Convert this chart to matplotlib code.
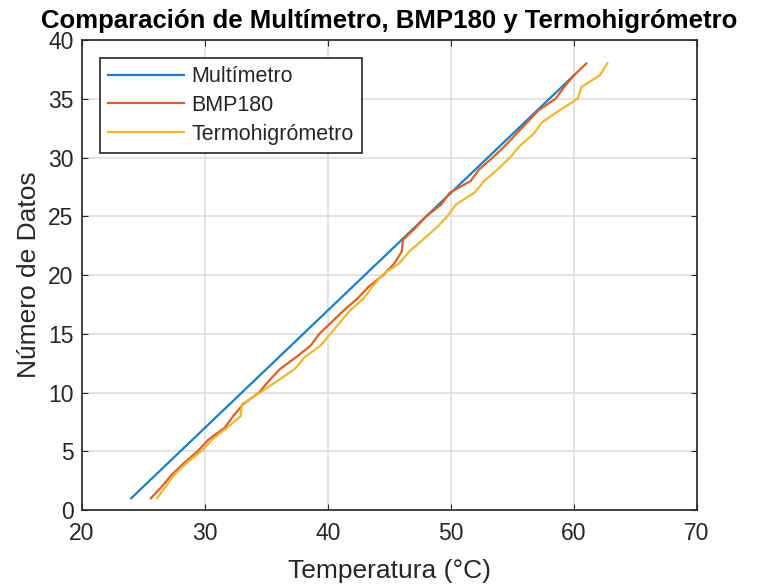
import matplotlib.pyplot as plt

plt.rcParams['font.family'] = ['Liberation Sans', 'DejaVu Sans']

# Número de dato (eje y)
n_multi = list(range(1, 38))
n_sens = list(range(1, 39))

# Temperaturas leídas (°C)
t_multimetro = [24, 25, 26, 27, 28, 29, 30, 31, 32, 33, 34, 35, 36, 37, 38, 39,
                40, 41, 42, 43, 44, 45, 46, 47, 48, 49, 50, 51, 52, 53, 54, 55,
                56, 57, 58, 59, 60]
t_bmp180 = [25.6, 26.5, 27.3, 28.3, 29.4, 30.3, 31.6, 32.3, 33.1, 34.4,
            35.2, 36.1, 37.4, 38.6, 39.3, 40.3, 41.3, 42.4, 43.3, 44.5,
            45.4, 46.0, 46.1, 47.1, 48.0, 49.2, 49.9, 51.6, 52.3, 53.4,
            54.4, 55.3, 56.2, 57.1, 58.5, 59.2, 60.0, 61.0]
t_termo = [26.1, 26.8, 27.5, 28.5, 29.7, 30.6, 31.8, 32.9, 33.0, 34.5,
           35.9, 37.3, 38.1, 39.4, 40.2, 41.0, 41.8, 42.9, 43.6, 44.4,
           45.8, 46.6, 47.7, 48.8, 49.7, 50.4, 51.9, 52.7, 53.8, 54.8,
           55.6, 56.7, 57.4, 58.8, 60.3, 60.6, 62.1, 62.7]

fig = plt.figure(figsize=(7.62, 5.86), dpi=100)
ax = fig.add_axes([0.1076, 0.1297, 0.8071, 0.802])

ax.plot(t_multimetro, n_multi, color='#1a7fc4', lw=1.6, label='Multímetro')
ax.plot(t_bmp180, n_sens, color='#dc5f2a', lw=1.6, label='BMP180')
ax.plot(t_termo, n_sens, color='#efb830', lw=1.6, label='Termohigrómetro')

ax.set_xlim(20, 70)
ax.set_ylim(0, 40)
ax.set_xticks(range(20, 71, 10))
ax.set_yticks(range(0, 41, 5))
ax.grid(True, color='#dedede', lw=1.2)
ax.set_axisbelow(True)
ax.tick_params(axis='x', pad=9)
ax.tick_params(axis='y', pad=6)
ax.tick_params(direction='in', top=True, right=True, labelsize=16.5,
               colors='#262626', length=4)
for s in ax.spines.values():
    s.set_color('#262626')
    s.set_linewidth(1.2)

ax.set_xlabel('Temperatura (°C)', fontsize=19, color='#262626', labelpad=10)
ax.set_ylabel('Número de Datos', fontsize=19, color='#262626', labelpad=5)
ax.set_title('Comparación de Multímetro, BMP180 y Termohigrómetro',
             fontsize=18.5, fontweight='bold', pad=9)

leg = ax.legend(loc='upper left', bbox_to_anchor=(0.029, 0.962),
                borderaxespad=0, fontsize=15.5,
                fancybox=False, framealpha=1, edgecolor='#262626',
                handlelength=3.5, handletextpad=0.35, borderpad=0.4,
                labelspacing=0.35)
leg.get_frame().set_linewidth(1.2)
for t in leg.get_texts():
    t.set_color('#262626')

fig.savefig('out.png', dpi=100)
